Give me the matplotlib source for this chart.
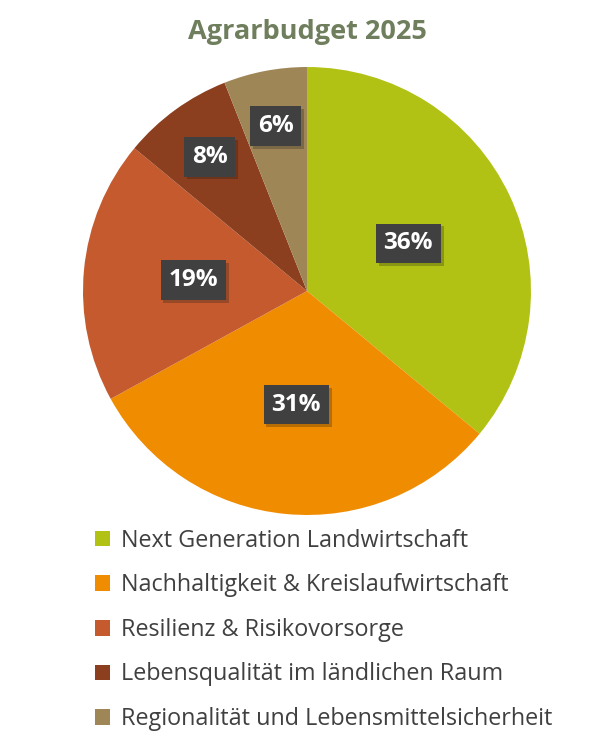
import numpy as np
import matplotlib
matplotlib.use("Agg")
import matplotlib.pyplot as plt
import matplotlib.patheffects as pe

categories = ["Next Generation Landwirtschaft",
              "Nachhaltigkeit & Kreislaufwirtschaft",
              "Resilienz & Risikovorsorge",
              "Lebensqualität im ländlichen Raum",
              "Regionalität und Lebensmittelsicherheit"]
shares = [36, 31, 19, 8, 6]
colors = ["#B1C214", "#F08C00", "#C45A2E", "#8C3F1F", "#9F8657"]
label_dist = [0.50, 0.51, 0.51, 0.74, 0.75]

plt.rcParams['font.family'] = ['Open Sans', 'DejaVu Sans']

fig = plt.figure(figsize=(6.13, 7.38), dpi=100)
ax = fig.add_axes([0.1353, 0.3022, 0.731, 0.607])

wedges, _ = ax.pie(shares, colors=colors, startangle=90, counterclock=False,
                   radius=1.0, wedgeprops=dict(linewidth=0))
ax.set_xlim(-1, 1)
ax.set_ylim(-1, 1)
ax.set_aspect('equal')
ax.axis('off')

for w, v, d in zip(wedges, shares, label_dist):
    ang = np.deg2rad((w.theta1 + w.theta2) / 2)
    t = ax.text(d * np.cos(ang), d * np.sin(ang), f"{v}%", ha='center', va='center',
                color='white', fontsize=17.5, fontweight='bold',
                bbox=dict(boxstyle='square,pad=0.32', fc='#404040', ec='none'))
    t.get_bbox_patch().set_path_effects([pe.SimplePatchShadow(offset=(2, -2), alpha=0.25), pe.Normal()])

fig.text(0.501, 0.956, "Agrarbudget 2025", ha='center', va='center',
         fontsize=19.5, fontweight='bold', color='#6F7E5D')

handles = [plt.Rectangle((0, 0), 1, 1, fc=c, ec='none') for c in colors]
fig.legend(handles, categories, loc='upper left', bbox_to_anchor=(0.14, 0.296),
           frameon=False, fontsize=16.8, labelcolor='#404040', handlelength=0.65,
           handleheight=0.65, handletextpad=0.45, labelspacing=0.88, borderaxespad=0)

fig.savefig("out.png", dpi=100, facecolor='white')
